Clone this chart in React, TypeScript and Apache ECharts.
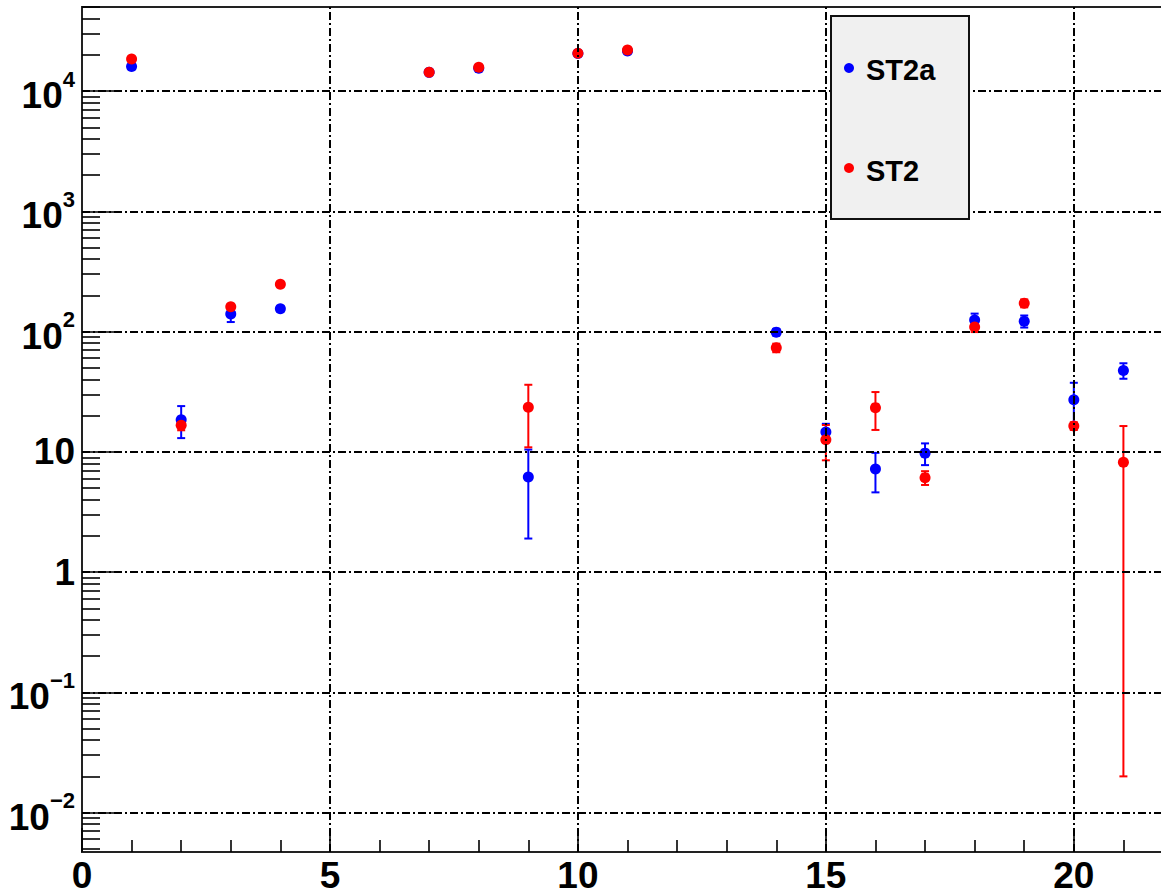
import React, { useEffect, useRef } from "react";
import * as echarts from "echarts";

// ---- data ----
const xPositions = [1, 2, 3, 4, 7, 8, 9, 10, 11, 14, 15, 16, 17, 18, 19, 20, 21];
const st2aValues = [16000, 18.5, 140, 155, 14300, 15500, 6.17, 20500, 21500, 98.9, 14.6, 7.2, 9.75, 125, 122, 27.1, 47.5];
const st2aErrors = [126, 5.5, 20, 8, 120, 124, 4.27, 143, 147, 6, 2.5, 2.6, 2.0, 16, 14, 10.4, 7];
const st2Values = [18500, 16.6, 161, 247, 14330, 15780, 23.5, 20600, 21980, 73.3, 12.6, 23.3, 6.1, 109, 172, 16.4, 8.2];
const st2Errors = [136, 1.5, 8, 10, 120, 126, 12.6, 144, 148, 6, 4.1, 8.1, 0.8, 10, 13, 1.2, 8.18];

const seriesNames = ["ST2a", "ST2"];
const seriesColors = ["#0000ff", "#ff0000"];

const yTickExponents = [-2, -1, 0, 1, 2, 3, 4];
const xTickLabels = [0, 5, 10, 15, 20];
const xMin = 0;
const xMax = 22;
const yMin = 0.0047;
const yMax = 50000;

const FONT = '"Liberation Sans", Arial, Helvetica, sans-serif';

const lg = (v: number) => Math.log10(v);

function minorY(): number[] {
  const out: number[] = [];
  for (let n = -3; n <= 4; n++) {
    for (let k = 2; k <= 9; k++) {
      const v = lg(k * Math.pow(10, n));
      if (v >= lg(yMin) && v <= lg(yMax)) out.push(v);
    }
  }
  return out;
}
function minorX(): number[] {
  const out: number[] = [];
  for (let i = xMin + 1; i < xMax; i++) if (i % 5 !== 0) out.push(i);
  return out;
}

function yLabel(e: number): string {
  if (e === 0) return "{p|1}";
  if (e === 1) return "{p|10}";
  const s = (e < 0 ? "\u2212" : "") + Math.abs(e);
  return "{b|10}{s|" + s + "}";
}

function errData(values: number[], errors: number[]) {
  return xPositions.map((x, i) => {
    const lo = values[i] - errors[i];
    return [x, lg(Math.max(lo, yMin)), lg(values[i] + errors[i])];
  });
}
function ptData(values: number[]) {
  return xPositions.map((x, i) => [x, lg(values[i])]);
}

function errSeries(name: string, color: string, data: number[][]) {
  return {
    type: "custom",
    name: name + " err",
    xAxisIndex: 0,
    yAxisIndex: 0,
    z: 3,
    encode: { x: 0, y: [1, 2] },
    data,
    renderItem: (_p: any, api: any) => {
      const x = api.value(0);
      const top = api.coord([x, api.value(2)]);
      const bot = api.coord([x, api.value(1)]);
      const w = 4;
      const st = { stroke: color, lineWidth: 2 };
      return {
        type: "group",
        children: [
          { type: "line", shape: { x1: top[0], y1: top[1], x2: bot[0], y2: bot[1] }, style: st },
          { type: "line", shape: { x1: top[0] - w, y1: top[1], x2: top[0] + w, y2: top[1] }, style: st },
          { type: "line", shape: { x1: bot[0] - w, y1: bot[1], x2: bot[0] + w, y2: bot[1] }, style: st },
        ],
      };
    },
  };
}

export default function App() {
  const ref = useRef<HTMLDivElement>(null);
  useEffect(() => {
    if (!ref.current) return;
    const chart = echarts.init(ref.current, undefined, { renderer: "svg" });
    const gridDash = { type: [8, 3, 2, 3], color: "#000", width: 2 };
    const option: any = {
      animation: false,
      backgroundColor: "#ffffff",
      grid: {
        left: 82,
        top: 7,
        width: 1091,
        height: 845,
        show: true,
        borderColor: "#222",
        borderWidth: 2,
        backgroundColor: "transparent",
      },
      xAxis: [
        {
          type: "value",
          min: xMin,
          max: xMax,
          position: "bottom",
          axisLine: { show: true, onZero: false, lineStyle: { color: "#222", width: 2 } },
          axisTick: { show: true, inside: true, length: 24, customValues: xTickLabels, lineStyle: { color: "#000", width: 1.6 } },
          axisLabel: {
            show: true,
            customValues: xTickLabels,
            margin: 8,
            fontFamily: FONT,
            fontWeight: "bold",
            fontSize: 37,
            lineHeight: 30,
            color: "#000",
          },
          splitLine: { show: false },
        },
        {
          type: "value",
          min: xMin,
          max: xMax,
          position: "bottom",
          axisLine: { show: false, onZero: false },
          axisTick: { show: true, inside: true, length: 12, customValues: minorX(), lineStyle: { color: "#000", width: 1.6 } },
          axisLabel: { show: false },
          splitLine: { show: false },
        },
      ],
      yAxis: [
        {
          type: "value",
          min: lg(yMin),
          max: lg(yMax),
          position: "left",
          axisLine: { show: true, onZero: false, lineStyle: { color: "#222", width: 2 } },
          axisTick: { show: true, inside: true, length: 36, customValues: yTickExponents, lineStyle: { color: "#000", width: 1.6 } },
          axisLabel: {
            show: true,
            customValues: yTickExponents,
            margin: 7,
            formatter: (v: number) => yLabel(Math.round(v)),
            rich: {
              p: { fontFamily: FONT, fontWeight: "bold", fontSize: 37, color: "#000", lineHeight: 40 },
              b: { fontFamily: FONT, fontWeight: "bold", fontSize: 37, color: "#000", lineHeight: 40, padding: [14, 0, 0, 0], verticalAlign: "bottom" },
              s: { fontFamily: FONT, fontWeight: "bold", fontSize: 22, color: "#000", lineHeight: 46, verticalAlign: "top" },
            },
          },
          splitLine: { show: false },
        },
        {
          type: "value",
          min: lg(yMin),
          max: lg(yMax),
          position: "left",
          axisLine: { show: false, onZero: false },
          axisTick: { show: true, inside: true, length: 18, customValues: minorY(), lineStyle: { color: "#000", width: 1.6 } },
          axisLabel: { show: false },
          splitLine: { show: false },
        },
      ],
      series: [
        {
          type: "scatter",
          name: "grid",
          data: [],
          z: 1,
          silent: true,
          markLine: {
            silent: true,
            symbol: ["none", "none"],
            label: { show: false },
            lineStyle: gridDash,
            emphasis: { disabled: true },
            data: [
              ...yTickExponents.map((e) => ({ yAxis: e })),
              ...xTickLabels.filter((v) => v > xMin).map((v) => ({ xAxis: v })),
            ],
          },
        },
        errSeries(seriesNames[0], seriesColors[0], errData(st2aValues, st2aErrors)),
        {
          type: "scatter",
          name: seriesNames[0],
          z: 4,
          symbol: "circle",
          symbolSize: 11,
          itemStyle: { color: seriesColors[0], opacity: 1 },
          data: ptData(st2aValues),
        },
        errSeries(seriesNames[1], seriesColors[1], errData(st2Values, st2Errors)),
        {
          type: "scatter",
          name: seriesNames[1],
          z: 4,
          symbol: "circle",
          symbolSize: 11,
          itemStyle: { color: seriesColors[1], opacity: 1 },
          data: ptData(st2Values),
        },
      ],
      graphic: [
        {
          type: "rect",
          z: 20,
          shape: { x: 831, y: 16, width: 138, height: 203 },
          style: { fill: "#f0f0f0", stroke: "#111", lineWidth: 2 },
        },
        { type: "circle", z: 21, shape: { cx: 849, cy: 68, r: 5 }, style: { fill: seriesColors[0] } },
        {
          type: "text",
          z: 21,
          x: 866,
          y: 70,
          style: { text: seriesNames[0], fontFamily: FONT, fontWeight: "bold", fontSize: 29, fill: "#000", verticalAlign: "middle", align: "left" },
        },
        { type: "circle", z: 21, shape: { cx: 849, cy: 168, r: 5 }, style: { fill: seriesColors[1] } },
        {
          type: "text",
          z: 21,
          x: 866,
          y: 171,
          style: { text: seriesNames[1], fontFamily: FONT, fontWeight: "bold", fontSize: 29, fill: "#000", verticalAlign: "middle", align: "left" },
        },
      ],
    };
    chart.setOption(option);
    return () => chart.dispose();
  }, []);
  return (
    <div
      style={{ position: "fixed", left: 0, top: 0, width: 1161, height: 895, overflow: "hidden", background: "#fff" }}
    >
      <div ref={ref} style={{ width: 1185, height: 895 }} />
    </div>
  );
}
